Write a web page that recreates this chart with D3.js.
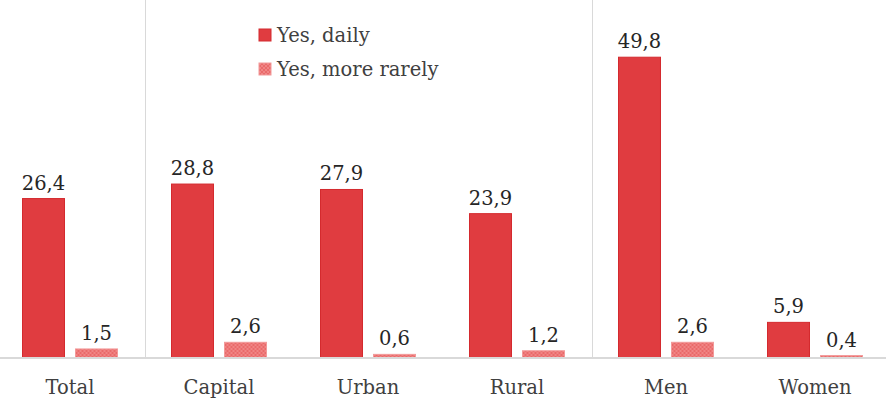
<!DOCTYPE html>
<html><head><meta charset="utf-8">
<script src="https://cdn.jsdelivr.net/npm/d3@7"></script>
<style>body{margin:0;background:#fff}svg{display:block}</style>
</head><body><div id="chart"></div>
<script>
const categories = ["Total","Capital","Urban","Rural","Men","Women"];
const seriesNames = ["Yes, daily","Yes, more rarely"];
const daily = [26.4,28.8,27.9,23.9,49.8,5.9];
const rarely = [1.5,2.6,0.6,1.2,2.6,0.4];
const separatorsAfter = ["Total","Rural"];

const W=886,H=406, base=358, top0=0;
const font="'DejaVu Serif', serif";
const fs=19.5;
const svg=d3.select("#chart").append("svg").attr("width",W).attr("height",H);
const defs=svg.append("defs");
const pat=defs.append("pattern").attr("id","chk").attr("width",4).attr("height",4).attr("patternUnits","userSpaceOnUse");
pat.append("rect").attr("width",4).attr("height",4).attr("fill","#F08585");
pat.append("rect").attr("width",2).attr("height",2).attr("fill","#E96A6A");
pat.append("rect").attr("x",2).attr("y",2).attr("width",2).attr("height",2).attr("fill","#E96A6A");

const x=d3.scaleBand().domain(categories).range([-4.5,889.5]).paddingInner(0).paddingOuter(0);
const x1=d3.scaleBand().domain(seriesNames).range([0,x.bandwidth()]).paddingInner(0.189).paddingOuter(0.5);
const y=d3.scaleLinear().domain([0,50]).range([base,base-50*6.04]);

// separators
svg.selectAll("line.sep").data(separatorsAfter).join("line")
 .attr("x1",d=>Math.round(x(d)+x.bandwidth())+0.5).attr("x2",d=>Math.round(x(d)+x.bandwidth())+0.5)
 .attr("y1",top0).attr("y2",base).attr("stroke","#d9d9d9").attr("stroke-width",1);

const g=svg.append("g");
const data=categories.map((c,i)=>({c,vals:[{s:seriesNames[0],v:daily[i]},{s:seriesNames[1],v:rarely[i]}]}));
const grp=g.selectAll("g.cat").data(data).join("g").attr("transform",d=>`translate(${x(d.c)},0)`);
grp.selectAll("rect").data(d=>d.vals).join("rect")
 .attr("x",d=>x1(d.s)+0.5).attr("width",x1.bandwidth()-1)
 .attr("y",d=>y(d.v)).attr("height",d=>base-y(d.v))
 .attr("fill",d=>d.s===seriesNames[0]?"#E03C40":"url(#chk)")
 .attr("stroke",d=>d.s===seriesNames[0]?"#D42A2E":"#F29A9A").attr("stroke-width",1);
grp.selectAll("text").data(d=>d.vals).join("text")
 .attr("x",d=>x1(d.s)+x1.bandwidth()/2).attr("y",d=>y(d.v)-9)
 .attr("text-anchor","middle").attr("font-family",font).attr("font-size",fs).attr("fill","#262626")
 .text(d=>d3.format(".1f")(d.v).replace(".",","));

// axis
const ax=svg.append("g").attr("transform",`translate(0,${base})`).call(d3.axisBottom(x).tickSize(0).tickPadding(22));
ax.select(".domain").attr("stroke","#d9d9d9").attr("stroke-width",2).attr("d",`M0,0H${W}`);
ax.selectAll("text").attr("font-family",font).attr("font-size",fs).attr("fill","#404040");

// legend
const lg=svg.append("g").attr("transform","translate(259,29)");
seriesNames.forEach((s,i)=>{
 lg.append("rect").attr("x",0).attr("y",i*34).attr("width",12).attr("height",12)
  .attr("fill",i===0?"#E03C40":"url(#chk)").attr("stroke",i===0?"#D42A2E":"#F29A9A");
 lg.append("text").attr("x",18).attr("y",i*34+13).attr("font-family",font).attr("font-size",fs).attr("fill","#404040").text(s);
});
</script></body></html>
